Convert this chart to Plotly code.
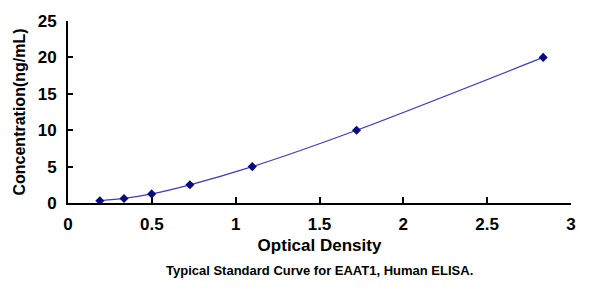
import plotly.graph_objects as go

od = [0.19, 0.334, 0.499, 0.727, 1.099, 1.721, 2.834]
conc = [0.312, 0.625, 1.25, 2.5, 5, 10, 20]
x_ticks = [0, 0.5, 1, 1.5, 2, 2.5, 3]
x_tick_labels = ["0", "0.5", "1", "1.5", "2", "2.5", "3"]
y_ticks = [0, 5, 10, 15, 20, 25]

font_family = "Liberation Sans, Arial, sans-serif"

fig = go.Figure()
fig.add_trace(go.Scatter(
    x=od, y=conc, mode="lines+markers",
    line=dict(shape="spline", color="#3c3cc8", width=1.2, smoothing=0.8),
    marker=dict(symbol="diamond", size=7, color="#0a0a80"),
    showlegend=False,
))

fig.update_layout(
    width=600, height=294,
    margin=dict(l=68, r=29, t=17, b=91),
    paper_bgcolor="white", plot_bgcolor="white",
    font=dict(family=font_family, color="black"),
    xaxis=dict(
        range=[0, 3], tickvals=x_ticks, ticktext=x_tick_labels,
        showline=True, linecolor="black", linewidth=2,
        ticks="inside", ticklen=6, tickwidth=1.5, tickcolor="black",
        showgrid=False, zeroline=False, ticklabelstandoff=5,
        tickfont=dict(size=17, family=font_family, weight="bold"),
        title=dict(text="Optical Density", font=dict(size=17, weight="bold"), standoff=6),
    ),
    yaxis=dict(
        range=[0, 25], tickvals=y_ticks,
        showline=True, linecolor="black", linewidth=2,
        ticks="inside", ticklen=5, tickwidth=1.5, tickcolor="black",
        showgrid=False, zeroline=False, ticklabelstandoff=6,
        tickfont=dict(size=17, family=font_family, weight="bold"),
        title=dict(text="Concentration(ng/mL)", font=dict(size=16, weight="bold"), standoff=8),
    ),
    annotations=[dict(
        text="Typical Standard Curve for EAAT1, Human ELISA.",
        xref="paper", yref="paper", x=0.5, y=0, yshift=-67,
        xanchor="center", yanchor="middle", showarrow=False,
        font=dict(size=13, weight="bold", family=font_family),
    )],
)

fig.write_html("out.html")
